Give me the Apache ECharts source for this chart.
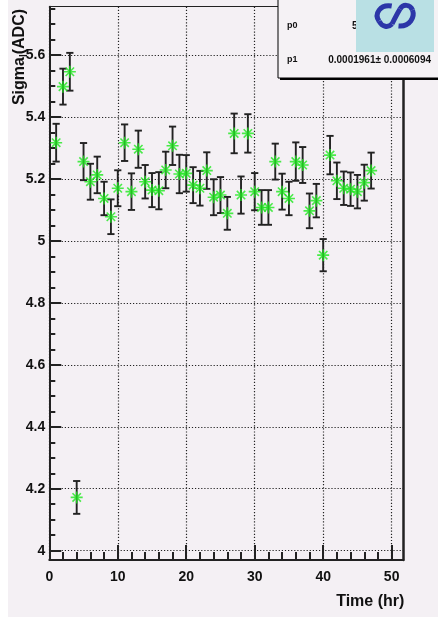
<!DOCTYPE html>
<html><head><meta charset="utf-8">
<script src="https://cdn.jsdelivr.net/npm/echarts@6/dist/echarts.min.js"></script>
<style>html,body{margin:0;padding:0;background:#f4f0f4}#c{width:438px;height:617px}</style>
</head><body><div id="c"></div>
<script>
// ---- data ----
const hours = [1,2,3,4,5,6,7,8,9,10,11,12,13,14,15,16,17,18,19,20,21,22,23,24,25,26,27,28,29,30,31,32,33,34,35,36,37,38,39,40,41,42,43,44,45,46,47];
const sigma = [5.317,5.498,5.546,4.172,5.256,5.191,5.213,5.137,5.078,5.170,5.317,5.159,5.296,5.191,5.164,5.162,5.229,5.307,5.216,5.218,5.180,5.170,5.227,5.141,5.148,5.089,5.347,5.148,5.347,5.159,5.108,5.108,5.256,5.159,5.137,5.256,5.245,5.097,5.130,4.954,5.277,5.194,5.170,5.167,5.159,5.188,5.227];
const sigmaErr = [0.061,0.058,0.061,0.053,0.060,0.058,0.059,0.054,0.056,0.058,0.059,0.059,0.060,0.054,0.055,0.060,0.059,0.062,0.062,0.059,0.058,0.056,0.059,0.058,0.058,0.053,0.064,0.060,0.062,0.060,0.056,0.056,0.058,0.058,0.054,0.062,0.058,0.056,0.054,0.052,0.062,0.059,0.054,0.054,0.054,0.058,0.058];
const xTicks = [0,10,20,30,40,50];
const yTicks = [4,4.2,4.4,4.6,4.8,5,5.2,5.4,5.6];
const xRange = [0, 51.7];
const yRange = [3.97, 5.756];
const xTitle = 'Time (hr)';
const yTitleMain = 'Sigma';
const yTitleSub = 'l';
const yTitleUnit = '(ADC)';
const statNames = ['p0', 'p1'];
const statValues = ['5.190\u00b1 0.008', '0.0001961\u00b1 0.0006094'];

// minor ticks (subdivisions of the major tick steps)
const xMinor = [];
for (let v = xRange[0]; v <= xRange[1]; v += 2) { const r = Math.round(v * 100) / 100; if (xTicks.indexOf(r) < 0) xMinor.push(r); }
const yMinor = [];
for (let k = Math.ceil(yRange[0] * 20); k <= Math.floor(yRange[1] * 20); k++) {
  const r = Math.round(k * 5) / 100;
  if (!yTicks.some(t => Math.abs(t - r) < 1e-6)) yMinor.push(r);
}

const FONT = "'Liberation Sans', Arial, Helvetica, sans-serif";
const AX = '#222';
const GREEN = '#1ee81e';
const GRID = {color: '#222', width: 1.2, type: [1.2, 1.9]};

const chart = echarts.init(document.getElementById('c'), null, {renderer: 'canvas'});
const baseX = {type: 'value', min: xRange[0], max: xRange[1], gridIndex: 0};
const baseY = {type: 'value', min: yRange[0], max: yRange[1], gridIndex: 0};
const off = {axisLine: {show: false}, axisTick: {show: false}, axisLabel: {show: false}, splitLine: {show: false}, minorTick: {show: false}};

const logoStyle = {fill: 'none', stroke: '#2c36a8', lineWidth: 5};
const logoSegs = [
  [391.7, 6, 380, 4, 374, 14, 379, 21],
  [379, 21, 382, 27, 388, 28, 392, 24],
  [392, 24, 395, 18, 397, 14, 400, 9],
  [400, 9, 403, 4, 410, 4, 412.5, 10],
  [412.5, 10, 415, 17, 410, 27, 398.5, 26]
];

chart.setOption({
  animation: false,
  backgroundColor: '#f4f0f4',
  grid: {left: 49.3, right: 34.7, top: 6.7, bottom: 57, containLabel: false},
  xAxis: [
    Object.assign({}, baseX, {
      position: 'bottom',
      axisLine: {show: true, onZero: false, lineStyle: {color: AX, width: 2}},
      axisTick: {show: true, inside: true, length: 15, customValues: xTicks, lineStyle: {color: AX, width: 2}},
      axisLabel: {show: true, customValues: xTicks, margin: 10, fontSize: 14, fontWeight: 'bold', color: '#111', fontFamily: FONT},
      splitLine: {show: true, lineStyle: GRID},
      minorTick: {show: false},
      name: xTitle, nameLocation: 'end', nameGap: 1,
      nameTextStyle: {fontSize: 16, fontWeight: 'bold', color: '#111', fontFamily: FONT, align: 'right', verticalAlign: 'top', padding: [34, 0, 0, 0]}
    }),
    Object.assign({}, baseX, off, {position: 'bottom',
      axisTick: {show: true, inside: true, length: 8, customValues: xMinor, lineStyle: {color: AX, width: 2}}}),
    Object.assign({}, baseX, off, {position: 'top',
      axisLine: {show: true, onZero: false, lineStyle: {color: AX, width: 1}}})
  ],
  yAxis: [
    Object.assign({}, baseY, {
      position: 'left',
      axisLine: {show: true, onZero: false, lineStyle: {color: AX, width: 2}},
      axisTick: {show: true, inside: true, length: 12, customValues: yTicks, lineStyle: {color: AX, width: 2}},
      axisLabel: {show: true, customValues: yTicks, margin: 4, fontSize: 14, fontWeight: 'bold', color: '#111', fontFamily: FONT},
      splitLine: {show: true, lineStyle: GRID},
      minorTick: {show: false}
    }),
    Object.assign({}, baseY, off, {position: 'left',
      axisTick: {show: true, inside: true, length: 6, customValues: yMinor, lineStyle: {color: AX, width: 2}}}),
    Object.assign({}, baseY, off, {position: 'right',
      axisLine: {show: true, onZero: false, lineStyle: {color: AX, width: 2.5}}})
  ],
  series: [
    {
      type: 'custom', xAxisIndex: 0, yAxisIndex: 0, z: 2,
      data: hours.map((h, i) => [h, sigma[i] - sigmaErr[i], sigma[i] + sigmaErr[i]]),
      encode: {x: 0, y: [1, 2]},
      renderItem: function (params, api) {
        const lo = api.coord([api.value(0), api.value(1)]);
        const hi = api.coord([api.value(0), api.value(2)]);
        const w = 3.6;
        const st = {stroke: '#222', lineWidth: 1.9};
        return {type: 'group', children: [
          {type: 'line', shape: {x1: lo[0], y1: lo[1], x2: hi[0], y2: hi[1]}, style: st},
          {type: 'line', shape: {x1: lo[0] - w, y1: lo[1], x2: lo[0] + w, y2: lo[1]}, style: st},
          {type: 'line', shape: {x1: hi[0] - w, y1: hi[1], x2: hi[0] + w, y2: hi[1]}, style: st}
        ]};
      }
    },
    {
      type: 'scatter', xAxisIndex: 0, yAxisIndex: 0, z: 3,
      data: hours.map((h, i) => [h, sigma[i]]),
      symbol: 'path://M0,5L10,5M5,0L5,10M1.5,1.5L8.5,8.5M8.5,1.5L1.5,8.5',
      symbolSize: 12,
      itemStyle: {color: 'rgba(0,0,0,0)', borderColor: GREEN, borderWidth: 1.6},
      emphasis: {disabled: true}
    }
  ],
  graphic: [
    {type: 'rect', x: 0, y: 0, shape: {width: 8, height: 617}, style: {fill: '#ffffff'}, z: 1},
    {type: 'text', x: 20, y: 57, rotation: Math.PI / 2, z: 50,
      style: {text: '{a|' + yTitleMain + '}{s|' + yTitleSub + '}{a|' + yTitleUnit + '}',
        align: 'center', verticalAlign: 'middle',
        rich: {a: {fontSize: 16, fontWeight: 'bold', fill: '#111', fontFamily: FONT},
               s: {fontSize: 10, fontWeight: 'bold', fill: '#111', fontFamily: FONT, padding: [8, 0, 0, 0]}}}},
    {type: 'rect', x: 280, y: -5, shape: {width: 170, height: 85}, style: {fill: '#000'}, z: 100},
    {type: 'rect', x: 278, y: -5, shape: {width: 170, height: 83}, style: {fill: '#f5f2f5', stroke: '#000', lineWidth: 1}, z: 101},
    {type: 'text', x: 287, y: 26, z: 102, style: {text: statNames[0], fontSize: 9, fontWeight: 'bold', fill: '#111', fontFamily: FONT, verticalAlign: 'middle'}},
    {type: 'text', x: 352, y: 26, z: 102, style: {text: statValues[0], fontSize: 10, fontWeight: 'bold', fill: '#111', fontFamily: FONT, verticalAlign: 'middle'}},
    {type: 'text', x: 287, y: 60, z: 102, style: {text: statNames[1], fontSize: 9, fontWeight: 'bold', fill: '#111', fontFamily: FONT, verticalAlign: 'middle'}},
    {type: 'text', x: 431, y: 60, z: 102, style: {text: statValues[1], fontSize: 10, fontWeight: 'bold', fill: '#111', fontFamily: FONT, align: 'right', verticalAlign: 'middle'}},
    {type: 'rect', x: 356, y: 0, shape: {width: 78, height: 52}, style: {fill: '#b9e0e4'}, z: 103}
  ].concat(logoSegs.map(s => ({type: 'bezierCurve', z: 104,
      shape: {x1: s[0], y1: s[1], cpx1: s[2], cpy1: s[3], cpx2: s[4], cpy2: s[5], x2: s[6], y2: s[7]},
      style: logoStyle})))
});
</script></body></html>
